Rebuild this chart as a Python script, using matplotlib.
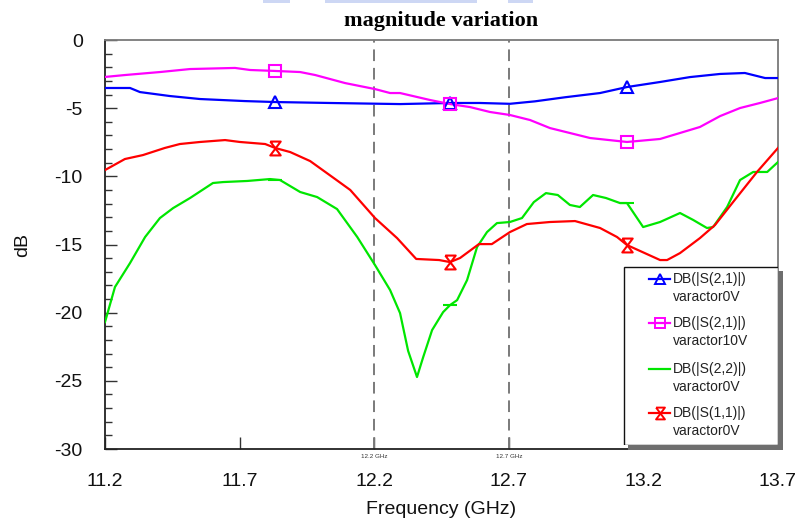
import matplotlib
matplotlib.use("Agg")
import numpy as np
import matplotlib.pyplot as plt
from matplotlib.patches import Rectangle
from matplotlib.ticker import MultipleLocator

W, H = 799, 522

# ---- measured S-parameter magnitudes (dB) vs frequency (GHz) ----
s21_0v_freq = [11.200, 11.293, 11.330, 11.441, 11.553, 11.720, 11.832, 12.036, 12.296, 12.482,
               12.593, 12.704, 12.797, 12.909, 13.039, 13.139, 13.262, 13.373, 13.485, 13.577,
               13.652, 13.700]
s21_0v_db = [-3.52, -3.52, -3.82, -4.11, -4.33, -4.48, -4.55, -4.62, -4.70, -4.62,
             -4.62, -4.68, -4.50, -4.20, -3.89, -3.45, -3.08, -2.72, -2.49, -2.42,
             -2.79, -2.79]

s21_10v_freq = [11.200, 11.274, 11.404, 11.516, 11.683, 11.739, 11.832, 11.925, 11.981, 12.092,
                12.203, 12.259, 12.296, 12.407, 12.482, 12.556, 12.630, 12.704, 12.779, 12.853,
                13.002, 13.139, 13.262, 13.336, 13.410, 13.485, 13.559, 13.633, 13.700]
s21_10v_db = [-2.71, -2.57, -2.35, -2.13, -2.05, -2.20, -2.27, -2.35, -2.57, -3.16,
              -3.60, -3.89, -3.89, -4.40, -4.70, -4.92, -5.28, -5.50, -5.87, -6.46,
              -7.19, -7.48, -7.26, -6.82, -6.38, -5.58, -4.99, -4.62, -4.26]

s22_0v_freq = [11.200, 11.237, 11.293, 11.349, 11.404, 11.453, 11.516, 11.601, 11.639, 11.728,
               11.813, 11.850, 11.925, 11.988, 12.062, 12.137, 12.203, 12.259, 12.296, 12.326,
               12.359, 12.382, 12.415, 12.456, 12.482, 12.508, 12.545, 12.582, 12.619, 12.656,
               12.704, 12.749, 12.793, 12.838, 12.882, 12.927, 12.964, 13.013, 13.061, 13.113,
               13.139, 13.199, 13.262, 13.336, 13.385, 13.436, 13.459, 13.511, 13.559, 13.608,
               13.660, 13.700]
s22_0v_db = [-20.69, -18.12, -16.36, -14.45, -13.06, -12.33, -11.59, -10.49, -10.42, -10.34,
             -10.20, -10.27, -11.15, -11.52, -12.40, -14.45, -16.51, -18.34, -20.03, -22.80,
             -24.72, -23.26, -21.28, -19.96, -19.44, -19.08, -17.61, -15.19, -14.09, -13.43,
             -13.35, -13.06, -11.89, -11.23, -11.37, -12.10, -12.25, -11.37, -11.59, -11.96,
             -11.96, -13.72, -13.35, -12.69, -13.20, -13.79, -13.72, -12.25, -10.27, -9.68,
             -9.68, -8.95]

s11_0v_freq = [11.200, 11.274, 11.341, 11.422, 11.478, 11.553, 11.646, 11.701, 11.795, 11.832,
               11.888, 11.962, 12.055, 12.111, 12.203, 12.285, 12.356, 12.441, 12.482, 12.519,
               12.589, 12.637, 12.704, 12.767, 12.853, 12.946, 13.039, 13.102, 13.139, 13.262,
               13.288, 13.336, 13.410, 13.466, 13.533, 13.622, 13.700]
s11_0v_db = [-9.54, -8.73, -8.44, -7.92, -7.63, -7.48, -7.34, -7.48, -7.63, -7.92,
             -8.22, -8.88, -10.20, -11.00, -13.06, -14.53, -16.06, -16.14, -16.29, -15.99,
             -14.97, -14.97, -14.09, -13.50, -13.35, -13.28, -13.79, -14.45, -15.04, -16.14,
             -16.14, -15.63, -14.53, -13.57, -11.89, -9.68, -7.92]

marker_freqs = [11.832, 12.482, 13.139]
guide_freqs = [12.2, 12.7]
guide_labels = ["12.2 GHz", "12.7 GHz"]
x_ticks = [11.2, 11.7, 12.2, 12.7, 13.2, 13.7]
y_ticks = [0, -5, -10, -15, -20, -25, -30]

legend_names = ["DB(|S(2,1)|)", "DB(|S(2,1)|)", "DB(|S(2,2)|)", "DB(|S(1,1)|)"]
legend_cases = ["varactor0V", "varactor10V", "varactor0V", "varactor0V"]

SANS = ["Liberation Sans", "DejaVu Sans"]
plt.rcParams["font.family"] = SANS

hourglass = [(-0.75, 1), (0.75, 1), (-0.75, -1), (0.75, -1), (-0.75, 1)]

series = [
    (s21_0v_freq, s21_0v_db, dict(color="#0000ff", marker="^", ms=9)),
    (s21_10v_freq, s21_10v_db, dict(color="#ff00ff", marker="s", ms=9)),
    (s22_0v_freq, s22_0v_db, dict(color="#00e600", marker="_", ms=10)),
    (s11_0v_freq, s11_0v_db, dict(color="#ff0000", marker=hourglass, ms=10)),
]

fig = plt.figure(figsize=(W / 100, H / 100), dpi=100)
fig.patch.set_facecolor("white")

# axes box in pixel terms: left 105, right 778, top 40, bottom 449
ax = fig.add_axes([105 / W, (H - 449) / H, 673 / W, 409 / H])
ax.set_zorder(0)

for fx, fy, st in series:
    ax.plot(fx, fy, color=st["color"], lw=1.6, zorder=3)
    # markers sit on the curve at the marker frequencies
    my = np.interp(marker_freqs, fx, fy)
    ax.plot(marker_freqs, my, ls="none", marker=st["marker"], ms=st["ms"],
            mfc="none", mec=st["color"], mew=1.5, zorder=4)

for gf, gl in zip(guide_freqs, guide_labels):
    ax.axvline(gf, color="#7a7a7a", lw=1.4, dashes=(6, 3.5), zorder=2)
    ax.text(gf, -0.018, gl, transform=ax.get_xaxis_transform(), ha="center", va="center",
            fontsize=4.5, color="#333333", family=SANS)

ax.set_xlim(11.2, 13.7)
ax.set_ylim(-30, 0)
ax.set_xticks(x_ticks)
ax.set_xticklabels([f"{t:.1f}" for t in x_ticks])
ax.set_yticks(y_ticks)
ax.set_yticklabels([f"{t:d}" for t in y_ticks])
ax.yaxis.set_minor_locator(MultipleLocator(1))
ax.tick_params(axis="both", which="major", direction="in", length=8.5, width=1.0,
               color="#333333", labelsize=14, labelcolor="#111111")
ax.tick_params(axis="x", pad=17, top=False)
ax.tick_params(axis="y", pad=16, right=False)
ax.tick_params(axis="y", which="minor", direction="in", length=5, width=1.0, color="#333333")
for side in ("left", "bottom"):
    ax.spines[side].set_color("#222222")
    ax.spines[side].set_linewidth(1.3)
for side in ("top", "right"):
    ax.spines[side].set_color("#7a7a7a")
    ax.spines[side].set_linewidth(1.3)

fig.text(441 / W, 1 - 21 / H, "magnitude variation", ha="center", va="center",
         fontsize=16, fontweight="bold", family=["Liberation Serif", "DejaVu Serif"])
fig.text(441 / W, 1 - 509 / H, "Frequency (GHz)", ha="center", va="center",
         fontsize=14, color="#111111")
fig.text(23 / W, 1 - 245 / H, "dB", ha="center", va="center", rotation=90,
         fontsize=14, color="#111111")

# faint remnant of a banner along the top edge
for x0, x1 in [(263, 290), (325, 477), (508, 533)]:
    fig.patches.append(Rectangle((x0 / W, 1 - 3 / H), (x1 - x0) / W, 3 / H,
                                 transform=fig.transFigure, facecolor="#cdd7f4",
                                 edgecolor="none", zorder=1))

# legend box with drop shadow
lx0, ly0, lw_, lh = 623, 266, 155, 179
fig.patches.append(Rectangle(((lx0 + 5) / W, (H - ly0 - lh - 5) / H), lw_ / W, lh / H,
                             transform=fig.transFigure, facecolor="#6e6e6e",
                             edgecolor="none", zorder=1))
lax = fig.add_axes([lx0 / W, (H - ly0 - lh) / H, lw_ / W, lh / H])
lax.set_zorder(2)
lax.set_xlim(0, lw_)
lax.set_ylim(lh, 0)
lax.axis("off")
lax.add_patch(Rectangle((0.5, 0.5), lw_ - 1, lh - 1, facecolor="white",
                        edgecolor="#111111", lw=1.0))
row_y = [13, 57, 103, 147]
for (fx, fy, st), name, case, yy in zip(series, legend_names, legend_cases, row_y):
    lax.plot([26, 47], [yy, yy], color=st["color"], lw=1.6)
    if st["marker"] != "_":
        lax.plot([36.5], [yy], ls="none", marker=st["marker"], ms=st["ms"] * 0.85,
                 mfc="none", mec=st["color"], mew=1.4)
    lax.text(50, yy, name, ha="left", va="center", fontsize=10, color="#222222")
    lax.text(50, yy + 18, case, ha="left", va="center", fontsize=10, color="#222222")

fig.savefig("out.png", dpi=100)
